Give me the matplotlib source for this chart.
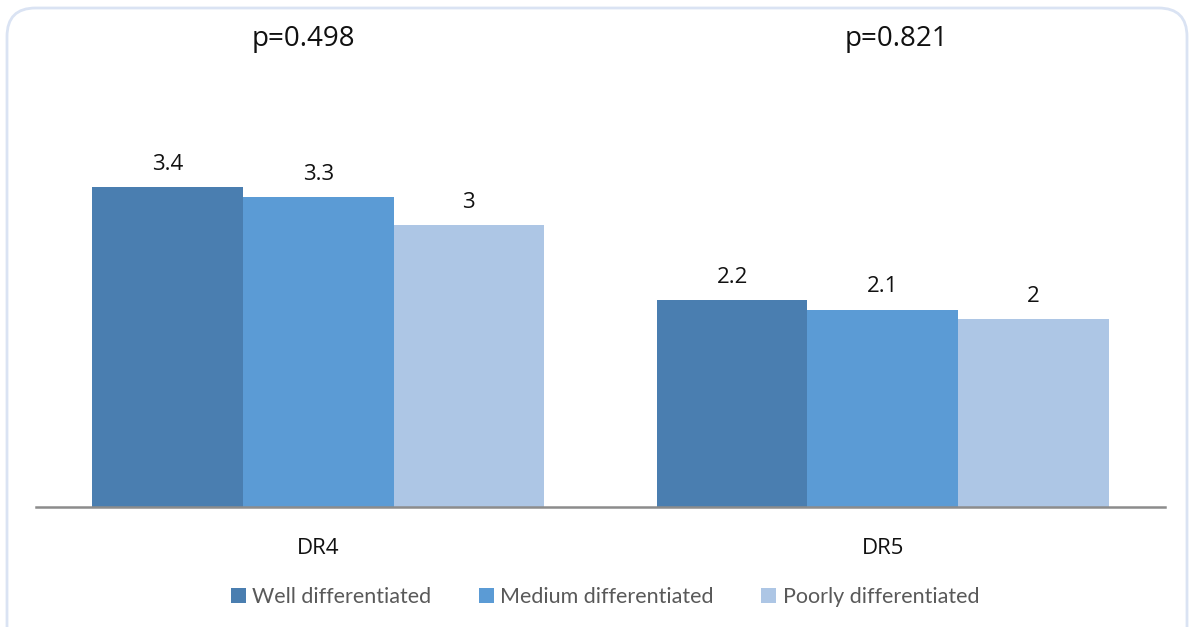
import numpy as np
import matplotlib.pyplot as plt
from matplotlib.patches import FancyBboxPatch

groups = ["DR4", "DR5"]
series = ["Well differentiated", "Medium differentiated", "Poorly differentiated"]
well = [3.4, 2.2]
medium = [3.3, 2.1]
poorly = [3.0, 2.0]
value_labels = [["3.4", "2.2"], ["3.3", "2.1"], ["3", "2"]]
p_values = ["p=0.498", "p=0.821"]

colors = ["#4a7eb0", "#5b9bd5", "#adc6e5"]

W, H = 1189, 627
fig = plt.figure(figsize=(W / 100, H / 100), dpi=100)

# rounded outer border (bottom runs off the image)
border = FancyBboxPatch((7 / W, -40 / H), 1180 / W, (H - 8 + 40) / H,
                        boxstyle="round,pad=0,rounding_size=0.024",
                        transform=fig.transFigure, facecolor="none",
                        edgecolor="#dae3f3", linewidth=2, zorder=-1,
                        mutation_aspect=W / H)
fig.patches.append(border)

ax = fig.add_axes([36 / W, 1 - 507 / H, (1165 - 36) / W, 470 / H])
ax.set_facecolor("none")

x = np.arange(len(groups))
bw = 0.8 / 3
for i, (vals, name) in enumerate(zip([well, medium, poorly], series)):
    bars = ax.bar(x + (i - 1) * bw, vals, bw, color=colors[i], label=name, zorder=2)
    for b, lab in zip(bars, value_labels[i]):
        ax.text(b.get_x() + b.get_width() / 2, b.get_height() + 0.13, lab,
                ha="center", va="bottom", fontsize=16, family="Open Sans", color="#111111")

for xi, p in zip([-0.027, 1.025], p_values):
    ax.text(xi, 4.98, p, ha="center", va="center", fontsize=20, family="Open Sans", color="#111111")

ax.set_xlim(-0.5, 1.5)
ax.set_ylim(0, 5)
ax.set_yticks([])
ax.set_xticks(x)
ax.set_xticklabels(groups, fontsize=16, family="Open Sans", color="#111111")
ax.tick_params(axis="x", length=0, pad=22)
for s in ["top", "right", "left"]:
    ax.spines[s].set_visible(False)
ax.spines["bottom"].set_color("#8c8c8c")
ax.spines["bottom"].set_linewidth(1.8)

fig.legend(loc="center", bbox_to_anchor=(605 / W, 1 - 597 / H), ncol=3, frameon=False,
           prop={"family": "Lato", "size": 15.5}, labelcolor="#595959",
           handlelength=0.7, handleheight=0.7, handletextpad=0.3, columnspacing=2.2)

fig.savefig("out.png", dpi=100)
